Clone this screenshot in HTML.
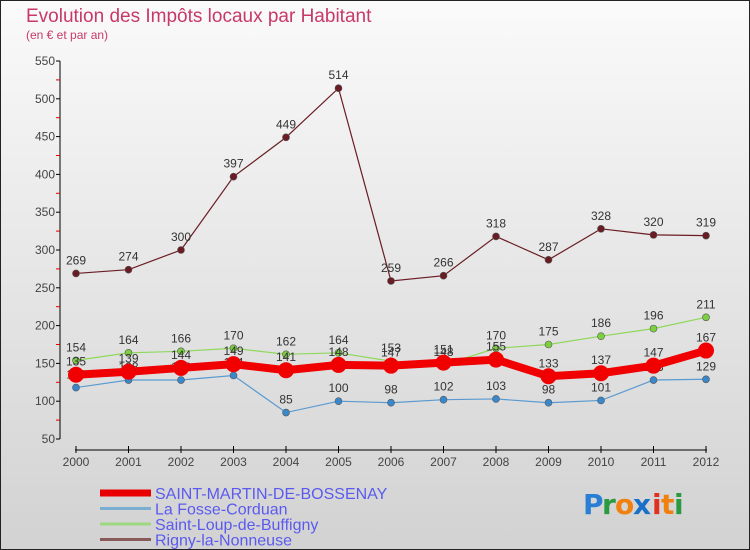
<!DOCTYPE html>
<html><head><meta charset="utf-8"><style>
body{margin:0;width:750px;height:550px;overflow:hidden;font-family:"Liberation Sans",sans-serif}
#c{position:absolute;left:0;top:0;width:748px;height:548px;border:1px solid #222;background:linear-gradient(#fafafa,#d2d2d2)}
</style></head><body>
<div id="c"></div>
<svg id="s" width="750" height="550" style="position:absolute;left:0;top:0" font-family="Liberation Sans, sans-serif">
<text x="26" y="22" font-size="19" fill="#c8386a">Evolution des Impôts locaux par Habitant</text>
<text x="26" y="39" font-size="12" fill="#c8386a">(en € et par an)</text>
<g id="axes"></g><g id="series"></g><g id="legend"></g>
<g font-size="28" font-family="DejaVu Sans, sans-serif" font-weight="bold">
<text x="583" y="514" fill="#2a7fd4">P</text><text x="602" y="514" fill="#2a9a40">r</text><text x="615" y="514" fill="#f08010">o</text><text x="633" y="514" fill="#1a70c8">x</text><text x="652" y="514" fill="#e03020">i</text><text x="661" y="514" fill="#f08010">t</text><text x="674" y="514" fill="#2a9a40">i</text>
</g>
</svg>
<script>
const years=[2000,2001,2002,2003,2004,2005,2006,2007,2008,2009,2010,2011,2012];
const yTicks=[50,100,150,200,250,300,350,400,450,500,550];
const saintMartin=[135,139,144,149,141,148,147,151,155,133,137,147,167];
const laFosse=[118,128,128,134,85,100,98,102,103,98,101,128,129];
const saintLoup=[154,164,166,170,162,164,153,148,170,175,186,196,211];
const rigny=[269,274,300,397,449,514,259,266,318,287,328,320,319];
const NS='http://www.w3.org/2000/svg';
const X=i=>76+i*52.5, Y=v=>439-(v-50)*0.756;
function mk(t,a,p){const e=document.createElementNS(NS,t);for(const k in a)e.setAttribute(k,a[k]);p.appendChild(e);return e;}
const ax=document.getElementById('axes');
let yl=mk('line',{x1:60,y1:Y(550),x2:60,y2:Y(50),stroke:'#000'},ax);


yTicks.forEach(v=>{
 mk('line',{x1:56,x2:60,y1:Y(v),y2:Y(v),stroke:'#000'},ax);
 if(v<550) mk('line',{x1:56,x2:60,y1:Y(v+25),y2:Y(v+25),stroke:'#d00'},ax);
 const t=mk('text',{x:55,y:Y(v)+4,'text-anchor':'end','font-size':12,fill:'#444'},ax);t.textContent=v;
 
 
});
let xl=mk('line',{x1:75,y1:450,x2:707,y2:450,stroke:'#000'},ax);


years.forEach((y,i)=>{
 mk('line',{x1:X(i),x2:X(i),y1:446,y2:453,stroke:'#000'},ax);
 const t=mk('text',{x:X(i),y:466,'text-anchor':'middle','font-size':12,fill:'#444'},ax);t.textContent=y;
 
 
});
const sg=document.getElementById('series');
const S=[
 {d:rigny,c:'#6a1c24',w:1.2,r:3.5,n:'rigny-la-nonneuse'},
 {d:saintLoup,c:'#8ed85a',w:1.2,r:3.5,fc:'#7cd040',n:'saint-loup-de-buffigny'},
 {d:laFosse,c:'#5a9ad0',w:1.2,r:3.5,fc:'#3a88cc',n:'la-fosse-corduan'},
 {d:saintMartin,c:'#f00000',w:8,r:8,n:'saint-martin-de-bossenay'}];
S.forEach(s=>{
 const g=mk('g',{},sg);
 
 
 const pl=mk('polyline',{points:s.d.map((v,i)=>X(i)+','+Y(v)).join(' '),fill:'none',stroke:s.c,'stroke-width':s.w},g);
 
 
 s.d.forEach((v,i)=>{
  const p=mk('circle',{cx:X(i),cy:Y(v),r:s.r,fill:s.fc||s.c,stroke:s.w>2?'none':'#555','stroke-width':0.6},g);
  
  
  const t=mk('text',{x:X(i),y:Y(v)-9,'text-anchor':'middle','font-size':12,fill:'#333'},g);t.textContent=v;
  
  
 });
});
const lg=document.getElementById('legend');
const L=[['SAINT-MARTIN-DE-BOSSENAY','#e80000',7],['La Fosse-Corduan','#7aaed0',3],['Saint-Loup-de-Buffigny','#9ed880',3],['Rigny-la-Nonneuse','#8a5a5a',3]];
L.forEach((l,i)=>{
 const y=493+i*15.5;
 const g=mk('g',{},lg);
 
 
 mk('line',{x1:100,x2:151,y1:y,y2:y,stroke:l[1],'stroke-width':l[2]},g);
 const t=mk('text',{x:155,y:y+6,'font-size':16,fill:'#5a5af0'},g);t.textContent=l[0];
});
</script>
</body></html>
